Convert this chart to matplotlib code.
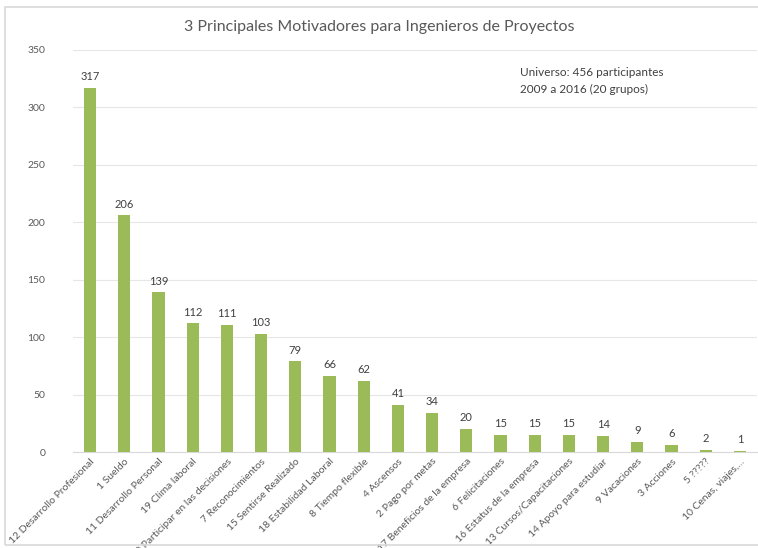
import matplotlib
matplotlib.use("Agg")
import matplotlib.pyplot as plt
from matplotlib.patches import Rectangle

categories = ["12 Desarrollo Profesional", "1 Sueldo", "11 Desarrollo Personal", "19 Clima laboral",
              "20 Participar en las decisiones", "7 Reconocimientos", "15 Sentirse Realizado",
              "18 Estabilidad Laboral", "8 Tiempo flexible", "4 Ascensos", "2 Pago por metas",
              "17 Beneficios de la empresa", "6 Felicitaciones", "16 Estatus de la empresa",
              "13 Cursos/Capacitaciones", "14 Apoyo para estudiar", "9 Vacaciones", "3 Acciones",
              "5 ?????", "10 Cenas, viajes,..."]
values = [317, 206, 139, 112, 111, 103, 79, 66, 62, 41, 34, 20, 15, 15, 15, 14, 9, 6, 2, 1]
yticks = [0, 50, 100, 150, 200, 250, 300, 350]

plt.rcParams['font.family'] = ['Lato', 'DejaVu Sans']

fig = plt.figure(figsize=(7.58, 5.48), dpi=100)
fig.patches.append(Rectangle((5/758, 3/548), 760/758, 538/548, transform=fig.transFigure,
                             fill=False, edgecolor='#d9d9d9', linewidth=1.2))
ax = fig.add_axes([73/758, 96/548, 684/758, 402/548])
x = list(range(len(categories)))
bars = ax.bar(x, values, width=0.36, color='#9BBB59', zorder=3)
for xi, v in zip(x, values):
    ax.text(xi, v + 5, str(v), ha='center', va='bottom', fontsize=8, color='#404040')
ax.set_xlim(-0.5, len(categories) - 0.5)
ax.set_ylim(0, 350)
ax.set_yticks(yticks)
ax.set_yticklabels([str(t) for t in yticks], fontsize=7.5, color='#595959')
ax.set_xticks(x)
ax.set_xticklabels(categories, rotation=45, ha='right', rotation_mode='anchor', fontsize=7.5, color='#595959')
ax.tick_params(axis='both', length=0)
ax.tick_params(axis='y', pad=20)
ax.grid(axis='y', color='#e6e6e6', linewidth=0.8, zorder=0)
for s in ['top', 'right', 'left']:
    ax.spines[s].set_visible(False)
ax.spines['bottom'].set_color('#d9d9d9')
fig.text(0.5, 1 - 27/548, "3 Principales Motivadores para Ingenieros de Proyectos", ha='center', va='center',
         fontsize=11.5, color='#595959')
fig.text(520/758, 1 - 73/548, "Universo: 456 participantes", ha='left', va='center', fontsize=8.5, color='#404040')
fig.text(520/758, 1 - 89/548, "2009 a 2016 (20 grupos)", ha='left', va='center', fontsize=8.5, color='#404040')
fig.savefig("out.png", dpi=100)
